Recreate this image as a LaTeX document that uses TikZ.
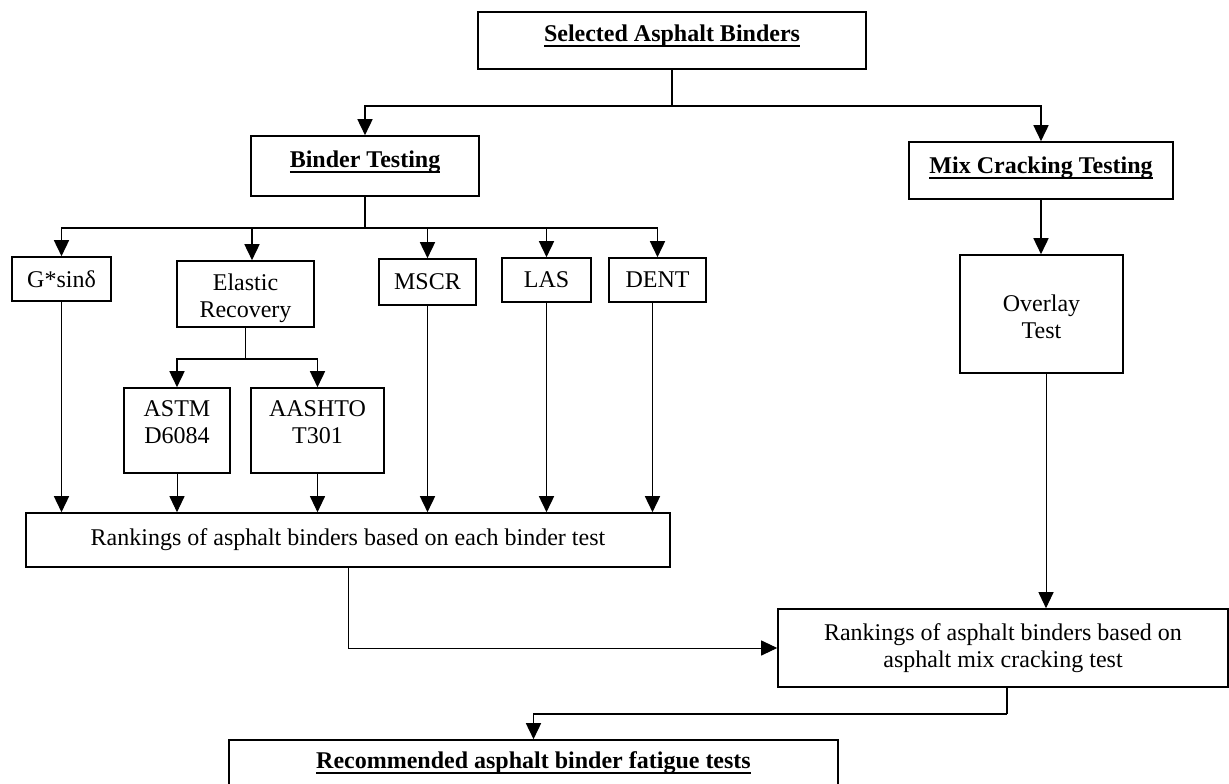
\documentclass[tikz,border=0pt]{standalone}
\usepackage{fontspec}
\setmainfont{Liberation Serif}
\usetikzlibrary{arrows.meta,
positioning}

% bold, underlined heading text
\newcommand{\headtext}[1]{%
\setbox0=\hbox{\bfseries #1}\rlap{\rule[-5.5pt]{\wd0}{2.4pt}}\box0}
% move the text inside a box up or down, keeping its size
\newcommand{\nudge}[2]{\raisebox{#1}[\height][\depth]{\begin{tabular}{@{}c@{}}#2\end{tabular}}}

\begin{document}
\begin{tikzpicture}[
x=1pt, y=-1pt,
every node/.style={
draw,
line width=1.6pt,
align=center,
inner sep=0pt,
font=\fontsize{24}{27}\selectfont
},
link/.style={line width=1.6pt},
thinlink/.style={line width=1pt},
>={Triangle[length=16pt,width=15pt]}
]
\useasboundingbox (0,0) rectangle (1229,784);

% top level
\node (selected) [minimum width=388pt, minimum height=57pt] at (672,40.5) {\nudge{4pt}{\headtext{Selected Asphalt Binders}}};
\node (binder) [minimum width=228pt, minimum height=60pt] at (365,166) {\nudge{4pt}{\headtext{Binder Testing}}};
\node (mix) [minimum width=264pt, minimum height=57pt] at (1041,170.5) {\nudge{2pt}{\headtext{Mix Cracking Testing}}};

% binder tests
\node (gsin) [minimum width=99pt, minimum height=44pt] at (61.5,279) {G*sinδ};
\node (elastic) [minimum width=137pt, minimum height=66pt] at (245.5,294) {\nudge{-5pt}{Elastic\\Recovery}};
\node (mscr) [minimum width=97pt, minimum height=46pt] at (427.5,282) {MSCR};
\node (las) [minimum width=89pt, minimum height=44pt] at (546.5,280) {LAS};
\node (dent) [minimum width=97pt, minimum height=44pt] at (657.5,280) {DENT};
\node (astm) [minimum width=106pt, minimum height=85pt] at (177,430.5) {\nudge{6pt}{ASTM\\D6084}};
\node (aashto) [minimum width=133pt, minimum height=85pt] at (317.5,430.5) {\nudge{6pt}{AASHTO\\T301}};

% mix test
\node (overlay) [minimum width=163pt, minimum height=118pt] at (1041.5,314) {\nudge{-6pt}{Overlay\\Test}};

% rankings
\node (rankbinder) [minimum width=644pt, minimum height=54pt] at (348,540) {Rankings of asphalt binders based on each binder test};
\node (rankmix) [minimum width=450pt, minimum height=78pt] at (1003,648) {Rankings of asphalt binders based on\\asphalt mix cracking test};
\node (recommended) [minimum width=609pt, minimum height=46pt] at (533.5,763) {\headtext{Recommended asphalt binder fatigue tests}};

% connectors
\draw[link] (selected.south) -- ++(0,36) coordinate (topsplit);
\draw[link,->] (topsplit) -| (binder.north);
\draw[link,->] (topsplit) -| (mix.north);

\draw[link] (binder.south) -- ++(0,31) coordinate (binsplit);
\draw[link,->] (binsplit) -| (gsin.north);
\draw[link,->] (binsplit) -| ([xshift=6.5pt]elastic.north);
\draw[link,->] (binsplit) -| (mscr.north);
\draw[link,->] (binsplit) -| (las.north);
\draw[link,->] (binsplit) -| (dent.north);

\draw[link] (elastic.south) -- ++(0,31) coordinate (elsplit);
\draw[link,->] (elsplit) -| (astm.north);
\draw[link,->] (elsplit) -| (aashto.north);

\draw[link,->] (gsin.south) -- (gsin.south |- rankbinder.north);
\draw[thinlink,->] (astm.south) -- (astm.south |- rankbinder.north);
\draw[thinlink,->] (aashto.south) -- (aashto.south |- rankbinder.north);
\draw[link,->] (mscr.south) -- (mscr.south |- rankbinder.north);
\draw[link,->] (las.south) -- (las.south |- rankbinder.north);
\draw[link,->] ([xshift=-5pt]dent.south) -- ([xshift=-5pt]dent.south |- rankbinder.north);

\draw[link,->] (mix.south) -- (mix.south |- overlay.north);
\draw[thinlink,->] ([xshift=4.5pt]overlay.south) -- ([xshift=4.5pt]overlay.south |- rankmix.north);

\draw[thinlink,->] (rankbinder.south) |- (rankmix.west);
\draw[link] ([xshift=4pt]rankmix.south) -- ++(0,26) coordinate (mixsplit);
\draw[link,->] (mixsplit) -| (recommended.north);

\end{tikzpicture}
\end{document}
